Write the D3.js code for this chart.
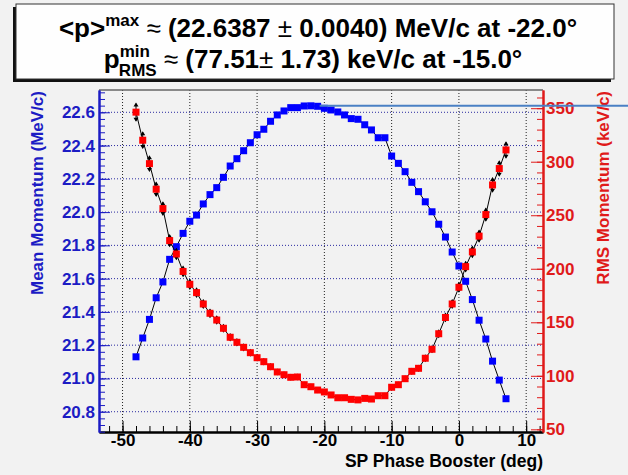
<!DOCTYPE html>
<html>
<head>
<meta charset="utf-8">
<script src="https://cdn.jsdelivr.net/npm/d3@7"></script>
<style>
	body { margin: 0; background: #f2f2f2; }
	svg { display: block; font-family: "Liberation Sans", Arial, Helvetica, sans-serif; font-weight: bold; }
</style>
</head>
<body>
<script>
var SIZE = { width: 628, height: 475 };
var FRAME = { left: 99, right: 543, top: 90, bottom: 432 };

// SP phase (deg), one point per degree
var phases = d3.range(-48, 8);

var meanMomentum = [
	21.130, 21.243, 21.355, 21.485, 21.580, 21.716, 21.792, 21.872, 21.945, 21.982,
	22.049, 22.105, 22.147, 22.209, 22.277, 22.321, 22.369, 22.417, 22.465, 22.498,
	22.546, 22.584, 22.608, 22.628, 22.628, 22.638, 22.639, 22.636, 22.624, 22.614,
	22.602, 22.584, 22.562, 22.558, 22.525, 22.494, 22.447, 22.447, 22.337, 22.293,
	22.243, 22.179, 22.123, 22.062, 22.002, 21.927, 21.850, 21.760, 21.676, 21.584,
	21.474, 21.350, 21.237, 21.104, 20.990, 20.878
];

var rmsMomentum = [
	346.3, 320.1, 298.2, 274.3, 256.2, 226.3, 213.8, 197.5, 185.5, 177.7,
	167.1, 158.4, 152.1, 144.4, 136.0, 131.3, 126.6, 121.6, 116.9, 113.2,
	108.5, 103.6, 101.0, 98.6, 98.9, 91.7, 89.8, 86.7, 84.9, 82.1,
	79.5, 79.5, 78.0, 77.5, 78.9, 78.3, 81.4, 81.4, 89.3, 91.7,
	97.3, 104.2, 107.0, 116.4, 124.8, 139.3, 154.5, 167.1, 182.7, 202.0,
	215.7, 230.5, 250.6, 278.3, 293.6, 311.0
];

var rmsError = [
	8.0, 7.4, 6.9, 6.3, 5.9, 5.2, 4.9, 4.5, 4.3, 4.1,
	3.8, 3.6, 3.5, 3.3, 3.1, 3.0, 2.9, 2.8, 2.7, 2.6,
	2.5, 2.4, 2.3, 2.3, 2.3, 2.1, 2.1, 2.0, 2.0, 1.9,
	1.8, 1.8, 1.8, 1.73, 1.8, 1.8, 1.9, 1.9, 2.1, 2.1,
	2.2, 2.4, 2.5, 2.7, 2.9, 3.2, 3.6, 3.8, 4.2, 4.6,
	5.0, 5.3, 5.8, 6.4, 6.8, 7.2
];

var xTicks = [-50, -40, -30, -20, -10, 0, 10];
var meanTicks = [20.8, 21.0, 21.2, 21.4, 21.6, 21.8, 22.0, 22.2, 22.4, 22.6];
var rmsTicks = [50, 100, 150, 200, 250, 300, 350];

var maxMean = { phase: -22.0, value: 22.6387, error: 0.0040, lineFrom: -20.7 };
var minRms = { phase: -15.0, value: 77.51, error: 1.73 };

var BLUE = '#0000ff', RED = '#ff0000';
var AXIS_BLUE = '#1c1cc4', AXIS_RED = '#e01a1a';

var x = d3.scaleLinear().domain([-53.5, 12.5]).range([FRAME.left, FRAME.right]);
var yMean = d3.scaleLinear().domain([20.678, 22.734]).range([FRAME.bottom, FRAME.top]);
var yRms = d3.scaleLinear().domain([47.5, 367]).range([FRAME.bottom, FRAME.top]);

var svg = d3.select('body').append('svg')
	.attr('width', SIZE.width)
	.attr('height', SIZE.height);

svg.append('rect')
	.attr('width', SIZE.width).attr('height', SIZE.height)
	.attr('fill', '#f2f2f2');

drawTitle();
drawGrid();
drawAxes();
drawSeries(meanMomentum, yMean, BLUE, null);
drawSeries(rmsMomentum, yRms, RED, rmsError);

// horizontal marker at the maximum mean momentum
svg.append('line')
	.attr('x1', x(maxMean.lineFrom)).attr('x2', SIZE.width)
	.attr('y1', yMean(maxMean.value)).attr('y2', yMean(maxMean.value))
	.attr('stroke', '#4a80c4').attr('stroke-width', 2);

function drawTitle() {
	var box = { x: 16, y: 4, w: 598, h: 75 };
	svg.append('rect')
		.attr('x', box.x - 3).attr('y', box.y + 3)
		.attr('width', box.w).attr('height', box.h)
		.attr('fill', '#111');
	svg.append('rect')
		.attr('x', box.x).attr('y', box.y)
		.attr('width', box.w).attr('height', box.h)
		.attr('fill', '#fefefe').attr('stroke', '#333').attr('stroke-width', 1);

	var line1 = svg.append('text')
		.attr('x', 318).attr('y', 37)
		.attr('text-anchor', 'middle')
		.style('font-size', '26px');
	line1.append('tspan').text('<p>');
	line1.append('tspan').attr('dy', -11).style('font-size', '17px').text('max');
	line1.append('tspan').attr('dy', 11).style('font-weight', 'normal').text(' \u2248 ');
	line1.append('tspan').text('(' + maxMean.value.toFixed(4) + ' ');
	line1.append('tspan').style('font-weight', 'normal').text('\u00b1');
	line1.append('tspan').text(' ' + maxMean.error.toFixed(4) + ') MeV/c at ' + maxMean.phase.toFixed(1) + '\u00b0');

	var line2 = svg.append('text')
		.attr('x', 313).attr('y', 68)
		.attr('text-anchor', 'middle')
		.style('font-size', '26px');
	line2.append('tspan').text('p');
	line2.append('tspan').attr('dy', -11).style('font-size', '17px').text('min');
	line2.append('tspan').attr('dx', -31).attr('dy', 19).style('font-size', '17px').text('RMS');
	line2.append('tspan').attr('dy', -8).style('font-weight', 'normal').text(' \u2248 ');
	line2.append('tspan').text('(' + minRms.value.toFixed(2));
	line2.append('tspan').style('font-weight', 'normal').text('\u00b1');
	line2.append('tspan').text(' ' + minRms.error.toFixed(2) + ') keV/c at ' + minRms.phase.toFixed(1) + '\u00b0');
}

function drawGrid() {
	var grid = svg.append('g').attr('class', 'grid');
	grid.selectAll('.vgrid')
		.data(xTicks)
		.enter().append('line')
		.attr('x1', function (d) { return x(d); })
		.attr('x2', function (d) { return x(d); })
		.attr('y1', FRAME.top).attr('y2', FRAME.bottom)
		.attr('stroke', '#222').attr('stroke-width', 1)
		.attr('stroke-dasharray', '1,2');
	grid.selectAll('.hgrid')
		.data(meanTicks)
		.enter().append('line')
		.attr('x1', FRAME.left).attr('x2', FRAME.right)
		.attr('y1', function (d) { return yMean(d); })
		.attr('y2', function (d) { return yMean(d); })
		.attr('stroke', '#2a2aa0').attr('stroke-width', 1)
		.attr('stroke-dasharray', '1,2');

	// top edge of the frame
	svg.append('line')
		.attr('x1', FRAME.left).attr('x2', FRAME.right)
		.attr('y1', FRAME.top).attr('y2', FRAME.top)
		.attr('stroke', '#666').attr('stroke-width', 1.5);
}

function styleAxis(g, color, size) {
	g.selectAll('path').attr('stroke', color).attr('stroke-width', 2);
	g.selectAll('line').attr('stroke', color);
	g.selectAll('text')
		.attr('fill', color)
		.style('font-size', size + 'px')
		.style('font-family', '"Liberation Sans", Arial, sans-serif')
		.style('font-weight', 'bold');
}

function drawAxes() {
	// bottom
	var xMinor = svg.append('g')
		.attr('transform', 'translate(0,' + FRAME.bottom + ')')
		.call(d3.axisBottom(x).tickValues(d3.range(-52, 13, 2)).tickFormat('').tickSizeInner(-6).tickSizeOuter(0));
	styleAxis(xMinor, '#000', 17);
	var xAxis = svg.append('g')
		.attr('transform', 'translate(0,' + FRAME.bottom + ')')
		.call(d3.axisBottom(x).tickValues(xTicks).tickFormat(d3.format('d')).tickSizeInner(-11).tickSizeOuter(0).tickPadding(2));
	styleAxis(xAxis, '#000', 17);
	xAxis.selectAll('text').text(function (d) { return d < 0 ? '-' + Math.abs(d) : d; });

	svg.append('text')
		.attr('x', FRAME.right).attr('y', 467)
		.attr('text-anchor', 'end')
		.style('font-size', '17.5px')
		.text('SP Phase Booster (deg)');

	// left, mean momentum
	var leftMinor = svg.append('g')
		.attr('transform', 'translate(' + FRAME.left + ',0)')
		.call(d3.axisLeft(yMean).tickValues(d3.range(20.68, 22.74, 0.04)).tickFormat('').tickSizeInner(-6).tickSizeOuter(0));
	styleAxis(leftMinor, AXIS_BLUE, 17);
	var leftAxis = svg.append('g')
		.attr('transform', 'translate(' + FRAME.left + ',0)')
		.call(d3.axisLeft(yMean).tickValues(meanTicks).tickFormat(d3.format('.1f')).tickSizeInner(-11).tickSizeOuter(0).tickPadding(4));
	styleAxis(leftAxis, AXIS_BLUE, 17);

	svg.append('text')
		.attr('transform', 'translate(43,' + (FRAME.top + 1) + ') rotate(-90)')
		.attr('text-anchor', 'end')
		.attr('fill', AXIS_BLUE)
		.style('font-size', '17px')
		.text('Mean Momentum (MeV/c)');

	// right, RMS momentum
	var rightMinor = svg.append('g')
		.attr('transform', 'translate(' + FRAME.right + ',0)')
		.call(d3.axisRight(yRms).tickValues(d3.range(50, 361, 10)).tickFormat('').tickSizeInner(-6).tickSizeOuter(0));
	styleAxis(rightMinor, AXIS_RED, 17);
	var rightAxis = svg.append('g')
		.attr('transform', 'translate(' + FRAME.right + ',0)')
		.call(d3.axisRight(yRms).tickValues(rmsTicks).tickFormat(d3.format('d')).tickSizeInner(-12).tickSizeOuter(0).tickPadding(3));
	styleAxis(rightAxis, AXIS_RED, 17);

	svg.append('text')
		.attr('transform', 'translate(609,' + (FRAME.top + 1) + ') rotate(-90)')
		.attr('text-anchor', 'end')
		.attr('fill', AXIS_RED)
		.style('font-size', '17px')
		.text('RMS Momentum (keV/c)');
}

function drawSeries(values, yScale, color, errors) {
	var points = phases.map(function (p, i) {
		return { phase: p, value: values[i], error: errors ? errors[i] : 0 };
	});
	var g = svg.append('g');

	var line = d3.line()
		.x(function (d) { return x(d.phase); })
		.y(function (d) { return yScale(d.value); });
	g.append('path')
		.datum(points)
		.attr('d', line)
		.attr('fill', 'none')
		.attr('stroke', '#000')
		.attr('stroke-width', 1);

	if (errors) {
		var bars = g.selectAll('.err')
			.data(points)
			.enter().append('g');
		bars.append('line')
			.attr('x1', function (d) { return x(d.phase); })
			.attr('x2', function (d) { return x(d.phase); })
			.attr('y1', function (d) { return yScale(d.value - d.error); })
			.attr('y2', function (d) { return yScale(d.value + d.error); })
			.attr('stroke', '#000');
		// arrow heads at both ends of the error bar
		bars.append('path')
			.attr('d', function (d) {
				var cx = x(d.phase), top = yScale(d.value + d.error), bot = yScale(d.value - d.error);
				return 'M' + (cx - 2.5) + ',' + (top + 3) + 'L' + cx + ',' + (top - 1) + 'L' + (cx + 2.5) + ',' + (top + 3) + 'Z' +
					'M' + (cx - 2.5) + ',' + (bot - 3) + 'L' + cx + ',' + (bot + 1) + 'L' + (cx + 2.5) + ',' + (bot - 3) + 'Z';
			})
			.attr('fill', '#000');
	}

	g.selectAll('.marker')
		.data(points)
		.enter().append('rect')
		.attr('x', function (d) { return x(d.phase) - 3.5; })
		.attr('y', function (d) { return yScale(d.value) - 3.5; })
		.attr('width', 7).attr('height', 7)
		.attr('fill', color);
}
</script>
</body>
</html>
